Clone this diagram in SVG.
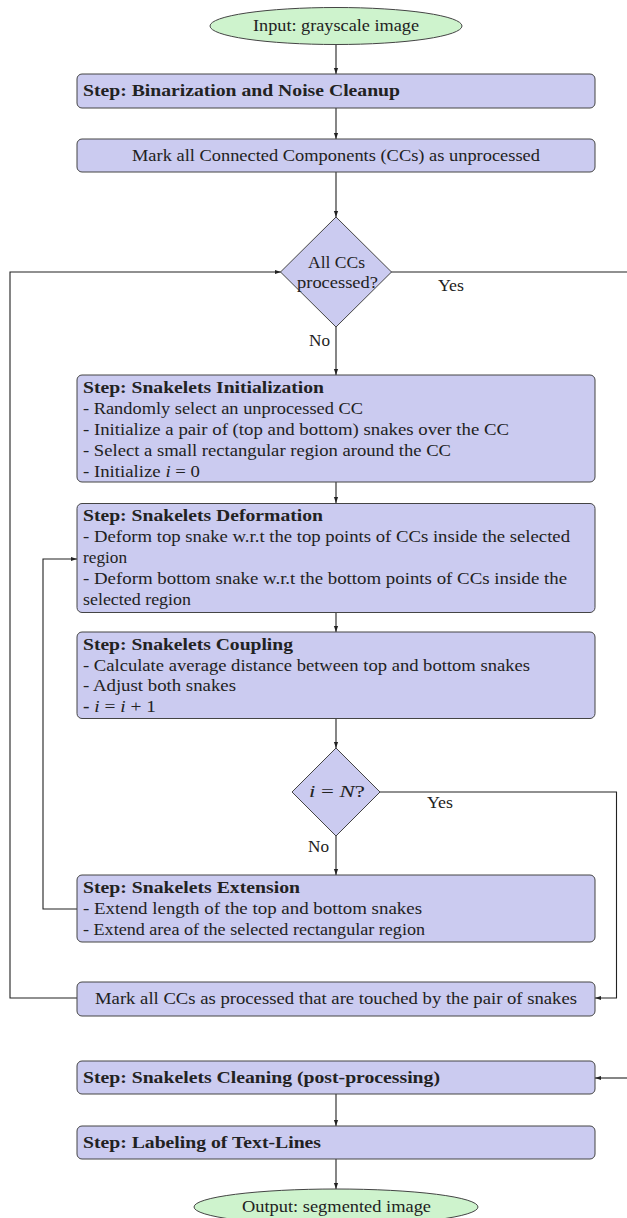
<svg xmlns="http://www.w3.org/2000/svg" width="627" height="1218" viewBox="0 0 627 1218">
<defs>
<marker id="ah" viewBox="0 0 10 10" refX="10" refY="5" markerWidth="6" markerHeight="6" orient="auto" markerUnits="userSpaceOnUse">
<path d="M0,1.5 L10,5 L0,8.5 z" fill="#222"/>
</marker>
<style>
.box{fill:#cbcbf0;stroke:#444;stroke-width:1}
.term{fill:#cef3cd;stroke:#444;stroke-width:1}
.t{font-family:"Liberation Serif","DejaVu Serif",serif;font-size:16.5px;fill:#222}
.b{font-weight:bold}
.m{font-style:italic}
.ln{fill:none;stroke:#222;stroke-width:1.1}
.arr{marker-end:url(#ah)}
</style>
</defs>
<rect width="627" height="1218" fill="#fff"/>

<g id="connectors">
<line class="ln arr" x1="336" y1="44" x2="336" y2="74"/>
<line class="ln arr" x1="336" y1="108" x2="336" y2="139"/>
<line class="ln arr" x1="336" y1="172" x2="336" y2="217"/>
<line class="ln" x1="391" y1="272" x2="627" y2="272"/>
<text class="t" x="438" y="291" textLength="26" lengthAdjust="spacingAndGlyphs">Yes</text>
<line class="ln arr" x1="336" y1="327" x2="336" y2="375"/>
<text class="t" x="309" y="346" textLength="21" lengthAdjust="spacingAndGlyphs">No</text>
<line class="ln arr" x1="336" y1="482" x2="336" y2="503"/>
<line class="ln arr" x1="336" y1="612" x2="336" y2="632"/>
<line class="ln arr" x1="336" y1="718" x2="336" y2="748"/>
<polyline class="ln arr" points="380,792 616.5,792 616.5,998 595,998"/>
<text class="t" x="427" y="808" textLength="26" lengthAdjust="spacingAndGlyphs">Yes</text>
<line class="ln arr" x1="336" y1="836" x2="336" y2="875"/>
<text class="t" x="308" y="852" textLength="21" lengthAdjust="spacingAndGlyphs">No</text>
<polyline class="ln arr" points="77,909 43,909 43,559 77,559"/>
<polyline class="ln arr" points="77,998 10,998 10,272 281,272"/>
<line class="ln arr" x1="627" y1="1078" x2="595" y2="1078"/>
<line class="ln arr" x1="336" y1="1094" x2="336" y2="1126"/>
<line class="ln arr" x1="336" y1="1159" x2="336" y2="1189"/>
</g>

<g id="input">
<ellipse class="term" cx="336" cy="26" rx="126" ry="18.5"/>
<text class="t" x="253" y="31" textLength="166" lengthAdjust="spacingAndGlyphs">Input: grayscale image</text>
</g>

<g id="binarization">
<rect class="box" x="77" y="74" width="518" height="34" rx="5"/>
<text class="t b" x="83" y="96" textLength="317" lengthAdjust="spacingAndGlyphs">Step: Binarization and Noise Cleanup</text>
</g>

<g id="mark-unprocessed">
<rect class="box" x="77" y="139" width="518" height="33" rx="5"/>
<text class="t" x="132" y="161" textLength="408" lengthAdjust="spacingAndGlyphs">Mark all Connected Components (CCs) as unprocessed</text>
</g>

<g id="all-processed">
<polygon class="box" points="336,217 391.5,272 336,327 280.5,272"/>
<text class="t" x="308" y="268" textLength="57" lengthAdjust="spacingAndGlyphs">All CCs</text>
<text class="t" x="297" y="288" textLength="81" lengthAdjust="spacingAndGlyphs">processed?</text>
</g>

<g id="init">
<rect class="box" x="77" y="375" width="518" height="107" rx="5"/>
<text class="t b" x="83" y="393" textLength="241" lengthAdjust="spacingAndGlyphs">Step: Snakelets Initialization</text>
<text class="t" x="83" y="414" textLength="280" lengthAdjust="spacingAndGlyphs">- Randomly select an unprocessed CC</text>
<text class="t" x="83" y="435" textLength="426" lengthAdjust="spacingAndGlyphs">- Initialize a pair of (top and bottom) snakes over the CC</text>
<text class="t" x="83" y="455.5" textLength="368" lengthAdjust="spacingAndGlyphs">- Select a small rectangular region around the CC</text>
<text class="t" x="83" y="476.5" textLength="117" lengthAdjust="spacingAndGlyphs">- Initialize <tspan class="m">i</tspan> = 0</text>
</g>

<g id="deformation">
<rect class="box" x="77" y="503.5" width="518" height="109" rx="5"/>
<text class="t b" x="83" y="521" textLength="240" lengthAdjust="spacingAndGlyphs">Step: Snakelets Deformation</text>
<text class="t" x="83" y="542" textLength="487" lengthAdjust="spacingAndGlyphs">- Deform top snake w.r.t the top points of CCs inside the selected</text>
<text class="t" x="83" y="563" textLength="44" lengthAdjust="spacingAndGlyphs">region</text>
<text class="t" x="83" y="584" textLength="484" lengthAdjust="spacingAndGlyphs">- Deform bottom snake w.r.t the bottom points of CCs inside the</text>
<text class="t" x="83" y="604.5" textLength="108" lengthAdjust="spacingAndGlyphs">selected region</text>
</g>

<g id="coupling">
<rect class="box" x="77" y="632" width="518" height="86.5" rx="5"/>
<text class="t b" x="83" y="649.5" textLength="210" lengthAdjust="spacingAndGlyphs">Step: Snakelets Coupling</text>
<text class="t" x="83" y="670.5" textLength="447" lengthAdjust="spacingAndGlyphs">- Calculate average distance between top and bottom snakes</text>
<text class="t" x="83" y="691" textLength="153" lengthAdjust="spacingAndGlyphs">- Adjust both snakes</text>
<text class="t" x="83" y="712" textLength="73" lengthAdjust="spacingAndGlyphs"><tspan class="b">-</tspan> <tspan class="m">i</tspan> = <tspan class="m">i</tspan> + 1</text>
</g>

<g id="i-eq-n">
<polygon class="box" points="336,748 380,792 336,836 292,792"/>
<text class="t" x="309" y="797" textLength="56" lengthAdjust="spacingAndGlyphs"><tspan class="m">i</tspan> = <tspan class="m">N</tspan>?</text>
</g>

<g id="extension">
<rect class="box" x="77" y="875" width="518" height="67" rx="5"/>
<text class="t b" x="83" y="892.5" textLength="217" lengthAdjust="spacingAndGlyphs">Step: Snakelets Extension</text>
<text class="t" x="83" y="913.5" textLength="339" lengthAdjust="spacingAndGlyphs">- Extend length of the top and bottom snakes</text>
<text class="t" x="83" y="934.5" textLength="342" lengthAdjust="spacingAndGlyphs">- Extend area of the selected rectangular region</text>
</g>

<g id="mark-processed">
<rect class="box" x="77" y="982" width="518" height="34" rx="5"/>
<text class="t" x="95" y="1004" textLength="482" lengthAdjust="spacingAndGlyphs">Mark all CCs as processed that are touched by the pair of snakes</text>
</g>

<g id="cleaning">
<rect class="box" x="77" y="1061" width="518" height="33" rx="5"/>
<text class="t b" x="83" y="1083" textLength="357" lengthAdjust="spacingAndGlyphs">Step: Snakelets Cleaning (post-processing)</text>
</g>

<g id="labeling">
<rect class="box" x="77" y="1126" width="518" height="33" rx="5"/>
<text class="t b" x="83" y="1148" textLength="238" lengthAdjust="spacingAndGlyphs">Step: Labeling of Text-Lines</text>
</g>

<g id="output">
<ellipse class="term" cx="336" cy="1207" rx="142" ry="18"/>
<text class="t" x="242" y="1212" textLength="189" lengthAdjust="spacingAndGlyphs">Output: segmented image</text>
</g>
</svg>
